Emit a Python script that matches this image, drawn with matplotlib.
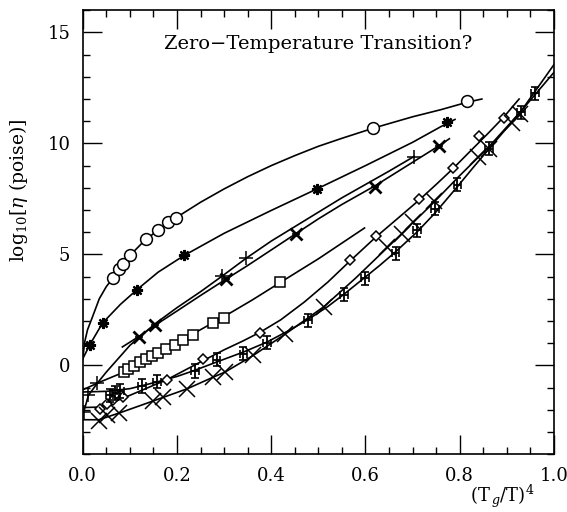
import matplotlib
matplotlib.use("Agg")
import matplotlib.pyplot as plt

plt.rcParams['font.family'] = ['DejaVu Serif']
plt.rcParams['mathtext.fontset'] = 'dejavuserif'

# fitted curves
circ_line_x = [0.0, 0.004, 0.01, 0.02, 0.035, 0.05, 0.064, 0.08, 0.1, 0.13, 0.16, 0.2, 0.25, 0.3, 0.35, 0.4, 0.45, 0.5, 0.55, 0.617, 0.7, 0.76, 0.815, 0.847]
circ_line_y = [0.3, 1.05, 1.6, 2.15, 3.0, 3.55, 3.93, 4.4, 4.95, 5.6, 6.1, 6.68, 7.35, 7.95, 8.5, 9.0, 9.45, 9.87, 10.23, 10.69, 11.2, 11.52, 11.85, 12.0]
star_line_x = [0.0, 0.015, 0.042, 0.08, 0.115, 0.16, 0.215, 0.3, 0.4, 0.498, 0.6, 0.7, 0.774, 0.79]
star_line_y = [0.3, 0.93, 1.91, 2.75, 3.41, 4.2, 4.95, 5.95, 6.98, 7.96, 9.0, 10.05, 10.92, 11.08]
bow_line_x = [0.084, 0.119, 0.153, 0.2, 0.25, 0.303, 0.35, 0.4, 0.452, 0.5, 0.55, 0.621, 0.7, 0.755, 0.778]
bow_line_y = [0.83, 1.3, 1.8, 2.45, 3.15, 3.87, 4.5, 5.2, 5.93, 6.6, 7.25, 8.1, 9.15, 9.88, 10.21]
plus_line_x = [0.002, 0.012, 0.031, 0.05, 0.075, 0.1, 0.13, 0.155, 0.2, 0.25, 0.295, 0.347, 0.4, 0.45, 0.5, 0.55, 0.6, 0.65, 0.703]
plus_line_y = [-2.1, -1.35, -0.8, -0.3, 0.3, 0.9, 1.45, 1.9, 2.6, 3.32, 4.01, 4.83, 5.6, 6.25, 6.9, 7.55, 8.15, 8.75, 9.41]
sq_line_x = [0.0, 0.04, 0.088, 0.12, 0.15, 0.2, 0.234, 0.3, 0.36, 0.418, 0.5, 0.598]
sq_line_y = [-1.1, -0.72, -0.3, 0.1, 0.47, 1.05, 1.42, 2.2, 2.95, 3.72, 4.8, 6.19]
dia_line_x = [0.0, 0.036, 0.06, 0.1, 0.15, 0.178, 0.22, 0.256, 0.3, 0.34, 0.377, 0.42, 0.47, 0.52, 0.568, 0.623, 0.67, 0.714, 0.75, 0.785, 0.82, 0.86, 0.894, 0.926]
dia_line_y = [-1.9, -1.88, -1.7, -1.35, -0.9, -0.65, -0.18, 0.22, 0.7, 1.1, 1.5, 2.05, 2.85, 3.75, 4.72, 5.8, 6.65, 7.45, 8.15, 8.85, 9.6, 10.45, 11.2, 12.0]
eb_line_x = [0.0, 0.05, 0.1, 0.157, 0.2, 0.238, 0.284, 0.341, 0.391, 0.44, 0.477, 0.52, 0.554, 0.598, 0.63, 0.663, 0.709, 0.747, 0.795, 0.83, 0.862, 0.9, 0.93, 0.96, 1.0]
eb_line_y = [-1.2, -1.17, -1.05, -0.75, -0.5, -0.22, 0.15, 0.6, 1.05, 1.6, 2.05, 2.65, 3.2, 3.95, 4.5, 5.1, 6.0, 6.85, 8.05, 8.95, 9.75, 10.7, 11.45, 12.2, 13.2]
x_line_x = [0.0, 0.034, 0.077, 0.15, 0.221, 0.277, 0.302, 0.362, 0.429, 0.512, 0.58, 0.651, 0.697, 0.743, 0.8, 0.862, 0.93, 1.0]
x_line_y = [-2.45, -2.45, -2.15, -1.6, -1.06, -0.53, -0.3, 0.45, 1.4, 2.65, 3.95, 5.4, 6.35, 7.3, 8.55, 9.85, 11.45, 13.55]

# data points
circ_x = [0.064, 0.077, 0.086, 0.101, 0.134, 0.159, 0.18, 0.197, 0.617, 0.815]
circ_y = [3.93, 4.35, 4.58, 4.98, 5.68, 6.08, 6.46, 6.65, 10.69, 11.9]
star_x = [0.015, 0.042, 0.115, 0.215, 0.498, 0.774]
star_y = [0.93, 1.91, 3.41, 4.95, 7.96, 10.95]
bow_x = [0.119, 0.153, 0.303, 0.452, 0.621, 0.755]
bow_y = [1.28, 1.8, 3.87, 5.93, 8.05, 9.88]
plus_x = [0.002, 0.012, 0.031, 0.295, 0.347, 0.703]
plus_y = [-2.1, -1.35, -0.8, 4.01, 4.83, 9.41]
sq_x = [0.088, 0.097, 0.109, 0.121, 0.134, 0.146, 0.159, 0.176, 0.195, 0.213, 0.234, 0.277, 0.3, 0.418]
sq_y = [-0.3, -0.18, -0.03, 0.15, 0.3, 0.42, 0.56, 0.75, 0.93, 1.13, 1.35, 1.9, 2.15, 3.77]
dia_x = [0.036, 0.052, 0.065, 0.085, 0.178, 0.256, 0.377, 0.568, 0.622, 0.714, 0.785, 0.841, 0.894]
dia_y = [-1.95, -1.75, -1.55, -1.42, -0.65, 0.27, 1.44, 4.76, 5.82, 7.48, 8.89, 10.35, 11.15]
eb_x = [0.057, 0.069, 0.08, 0.126, 0.157, 0.238, 0.284, 0.341, 0.391, 0.478, 0.554, 0.599, 0.664, 0.709, 0.747, 0.795, 0.862, 0.93, 0.96]
eb_y = [-1.35, -1.25, -1.15, -0.93, -0.74, -0.25, 0.25, 0.53, 1.03, 2.03, 3.18, 3.92, 5.04, 6.08, 7.06, 8.14, 9.76, 11.4, 12.25]
x_x = [0.034, 0.051, 0.077, 0.15, 0.171, 0.221, 0.277, 0.302, 0.362, 0.429, 0.512, 0.646, 0.678, 0.7, 0.746, 0.838, 0.862, 0.91, 0.927]
x_y = [-2.5, -2.25, -2.13, -1.59, -1.44, -1.06, -0.53, -0.3, 0.45, 1.43, 2.63, 5.33, 5.93, 6.45, 7.4, 9.4, 9.76, 10.9, 11.34]

fig = plt.figure(figsize=(5.67, 5.12), dpi=100)
ax = fig.add_axes([0.146, 0.113, 0.831, 0.867])

lw = 1.2
for lx, ly in [(circ_line_x, circ_line_y), (star_line_x, star_line_y), (bow_line_x, bow_line_y),
               (plus_line_x, plus_line_y), (sq_line_x, sq_line_y), (dia_line_x, dia_line_y),
               (eb_line_x, eb_line_y), (x_line_x, x_line_y)]:
    ax.plot(lx, ly, color='black', lw=lw)

ax.plot(circ_x, circ_y, 'o', ms=8.5, mfc='white', mec='black', mew=1.1)
ax.plot(star_x, star_y, marker=(8, 2, 0), ls='none', ms=8, mec='black', mew=1.6)
ax.plot(bow_x, bow_y, 'x', ms=8, mec='black', mew=2.0)
ax.plot(bow_x, bow_y, '_', ms=6, mec='black', mew=1.2)
ax.plot(plus_x, plus_y, '+', ms=10, mec='black', mew=1.1)
ax.plot(sq_x, sq_y, 's', ms=7.5, mfc='white', mec='black', mew=1.1)
ax.plot(dia_x, dia_y, 'D', ms=5.5, mfc='white', mec='black', mew=1.1)
ax.errorbar(eb_x, eb_y, xerr=0.008, yerr=0.3, fmt='none', ecolor='black', elinewidth=1.3, capsize=3, capthick=1.2)
ax.plot(x_x, x_y, 'x', ms=11, mec='black', mew=1.1)

ax.set_xlim(0, 1.0)
ax.set_ylim(-4, 16)
ax.set_xticks([0.0, 0.2, 0.4, 0.6, 0.8, 1.0])
ax.set_xticklabels(['0.0', '0.2', '0.4', '0.6', '0.8', '1.0'])
ax.set_xticks([i * 0.05 for i in range(21)], minor=True)
ax.set_yticks([0, 5, 10, 15])
ax.set_yticks(list(range(-4, 17)), minor=True)
ax.tick_params(which='both', direction='in', top=True, right=True, width=1.0, labelsize=13)
ax.tick_params(which='major', length=14, pad=9)
ax.tick_params(which='minor', length=5)
for s in ax.spines.values():
    s.set_linewidth(1.2)

ax.set_ylabel(r'log$_{10}$[$\eta$ (poise)]', fontsize=13.5)
ax.yaxis.set_label_coords(-0.112, 0.595)
ax.text(0.5, 0.925, 'Zero\u2212Temperature Transition?', transform=ax.transAxes,
        ha='center', va='center', fontsize=14)
fig.text(0.885, 0.03, r'(T$_{\,g}$/T)$^4$', ha='center', va='center', fontsize=13)

fig.savefig('out.png', dpi=100)
